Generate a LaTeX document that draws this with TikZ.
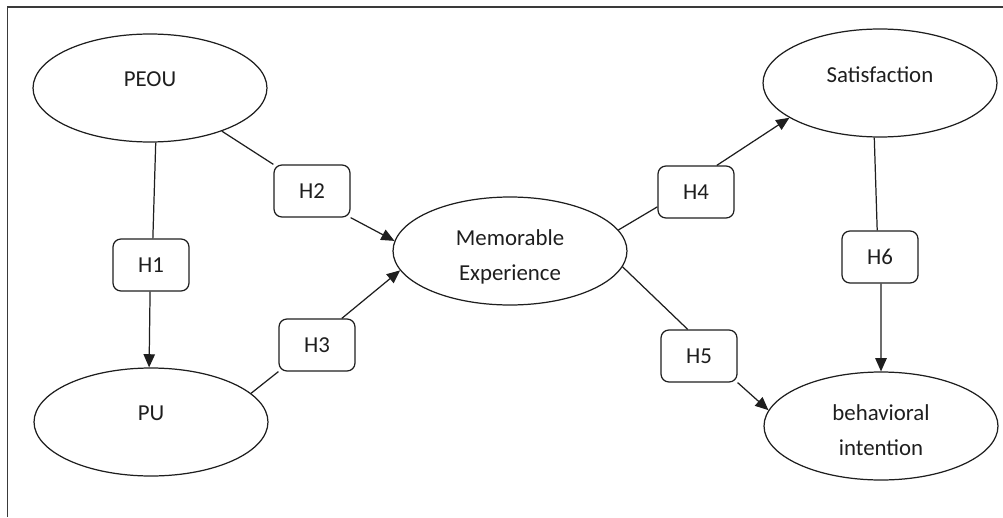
\documentclass[tikz,border=0pt]{standalone}
\usepackage{fontspec}
\setmainfont{Carlito}
\usetikzlibrary{arrows.meta,shapes.geometric}
\definecolor{hypink}{HTML}{1E1E1E}
\definecolor{hypframe}{HTML}{3A3A3A}
\tikzset{
  ell/.style={ellipse, draw=hypink, line width=0.7pt, minimum width=4.68cm, minimum height=2.16cm, inner sep=0pt},
  hyp/.style={draw=hypink, line width=0.7pt, rounded corners=4.5pt, minimum width=1.52cm, minimum height=1.04cm, inner sep=0pt, font=\fontsize{13}{16}\selectfont, text=hypink},
  lbl/.style={font=\fontsize{13}{19.5}\selectfont, align=center, text=hypink},
  link/.style={draw=hypink, line width=0.7pt},
  arr/.style={link, -{Triangle[length=7.5pt, width=6.5pt]}},
  frame/.style={draw=hypframe, line width=1pt},
}

\begin{document}
\begin{tikzpicture}[x=0.02cm, y=-0.02cm]
  \useasboundingbox (0,0) rectangle (1003,517);
  \draw[frame] (7.5,517) |- (1003,7);
  \node[ell, label={[lbl, yshift=4.8pt]center:PEOU}] (peou) at (150,88) {};
  \node[ell, label={[lbl, yshift=5pt]center:PU}] (pu) at (151,422) {};
  \node[ell, label={[lbl, yshift=-3.3pt]center:Memorable\\Experience}] (me) at (510,251) {};
  \node[ell, label={[lbl, yshift=4.6pt]center:Satisfaction}] (sat) at (880,83) {};
  \node[ell, label={[lbl, yshift=-2.3pt]center:behavioral\\intention}] (bi) at (881,426) {};
  \node[hyp] (h1) at (151,265) {H1};
  \node[hyp] (h2) at (312,191) {H2};
  \node[hyp] (h3) at (317,345) {H3};
  \node[hyp] (h4) at (696,192) {H4};
  \node[hyp] (h5) at (699,356) {H5};
  \node[hyp] (h6) at (880,257) {H6};
  \draw[link] (peou.-84) -- (h1.86);
  \draw[arr] (h1.-92) -- (pu.92);
  \draw[link] (peou.-31) -- (h2.north west);
  \draw[arr] (h2.south east) -- (me.175);
  \draw[link] (pu.16) -- (h3.south west);
  \draw[arr] (h3.47) -- (me.190);
  \draw[link] (me.11) -- (h4.201);
  \draw[arr] (h4.52) -- (sat.201);
  \draw[link] (me.-8) -- (h5.113);
  \draw[arr] (h5.south east) -- (bi.172);
  \draw[link] (sat.-96) -- (h6.96);
  \draw[arr] (h6.-88) -- (bi.90);
\end{tikzpicture}
\end{document}
